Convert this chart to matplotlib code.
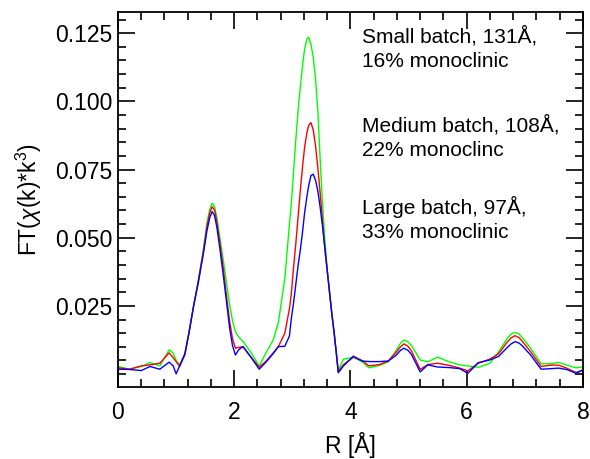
import numpy as np
import matplotlib
matplotlib.use("Agg")
import matplotlib.pyplot as plt
from matplotlib.ticker import MultipleLocator, FixedLocator, FormatStrFormatter

plt.rcParams['font.family'] = ['Liberation Sans', 'DejaVu Sans']
plt.rcParams['mathtext.fontset'] = 'custom'
plt.rcParams['mathtext.rm'] = 'Liberation Sans'
plt.rcParams['mathtext.it'] = 'Liberation Sans:italic'

# R grid [Å]
r = [0.0, 0.2, 0.4, 0.55, 0.72, 0.88, 0.95, 1.0, 1.06, 1.15, 1.22, 1.30, 1.38, 1.47,
     1.53, 1.58, 1.62, 1.66, 1.70, 1.75, 1.81, 1.87, 1.92, 1.97, 2.02, 2.08, 2.15,
     2.3, 2.43, 2.55, 2.67, 2.76, 2.87, 2.95, 2.98, 3.02, 3.06, 3.10, 3.14, 3.18,
     3.21, 3.25, 3.28, 3.32, 3.36, 3.40, 3.44, 3.48, 3.52, 3.56, 3.60, 3.64, 3.68,
     3.72, 3.76, 3.79,
     3.88, 4.05, 4.2, 4.32, 4.5, 4.65, 4.78, 4.86, 4.92, 4.99, 5.05, 5.2, 5.33, 5.5,
     5.7, 5.88, 6.02, 6.2, 6.4, 6.55, 6.7, 6.76, 6.83, 6.90, 6.95, 7.1, 7.28, 7.45,
     7.58, 7.72, 7.88, 8.0]

# Small batch, 131 Å (green)
small = [0.0028, 0.0018, 0.0028, 0.0042, 0.0030, 0.0089, 0.0077, 0.0050, 0.0034,
         0.0072, 0.0150, 0.0250, 0.0340, 0.0460,
         0.0555, 0.0605, 0.0627, 0.0615, 0.0575, 0.0505, 0.0420, 0.0330, 0.0255,
         0.0195, 0.0155, 0.0135, 0.0120, 0.0075, 0.0030, 0.0080, 0.0125, 0.0190,
         0.0350, 0.0550, 0.0620, 0.0740, 0.0860, 0.0970, 0.1060, 0.1140, 0.1190,
         0.1228, 0.1235, 0.1210, 0.1160, 0.1080, 0.0960, 0.0780, 0.0620, 0.0490,
         0.0385, 0.0300, 0.0220, 0.0150, 0.0070, 0.0015,
         0.0055, 0.0062, 0.0045, 0.0023, 0.0032, 0.0045, 0.0085, 0.0113, 0.0125,
         0.0118, 0.0105, 0.0052, 0.0045, 0.0062, 0.0045, 0.0034, 0.0030, 0.0025,
         0.0040, 0.0082, 0.0132, 0.0146, 0.0153, 0.0147, 0.0135, 0.0095, 0.0038,
         0.0038, 0.0043, 0.0033, 0.0023, 0.0026]

# Medium batch, 108 Å (red)
medium = [0.0023, 0.0018, 0.0030, 0.0034, 0.0040, 0.0078, 0.0060, 0.0046, 0.0028,
          0.0070, 0.0150, 0.0250, 0.0340, 0.0450,
          0.0540, 0.0592, 0.0614, 0.0602, 0.0560, 0.0485, 0.0390, 0.0280, 0.0195,
          0.0130, 0.0095, 0.0098, 0.0101, 0.0060, 0.0025, 0.0048, 0.0078, 0.0101,
          0.0150, 0.0240, 0.0290, 0.0390, 0.0480, 0.0580, 0.0680, 0.0770, 0.0830,
          0.0885, 0.0912, 0.0922, 0.0895, 0.0835, 0.0755, 0.0660, 0.0560, 0.0460,
          0.0380, 0.0300, 0.0220, 0.0150, 0.0070, 0.0009,
          0.0035, 0.0062, 0.0050, 0.0030, 0.0035, 0.0048, 0.0078, 0.0100, 0.0111,
          0.0102, 0.0085, 0.0017, 0.0035, 0.0040, 0.0032, 0.0022, 0.0012, 0.0040,
          0.0055, 0.0075, 0.0118, 0.0132, 0.0141, 0.0134, 0.0122, 0.0082, 0.0028,
          0.0033, 0.0033, 0.0022, 0.0006, 0.0015]

# Large batch, 97 Å (blue)
large = [0.0018, 0.0017, 0.0013, 0.0028, 0.0018, 0.0044, 0.0030, 0.0001, 0.0030,
         0.0075, 0.0150, 0.0248, 0.0333, 0.0443,
         0.0525, 0.0575, 0.0596, 0.0582, 0.0540, 0.0465, 0.0365, 0.0260, 0.0170,
         0.0105, 0.0070, 0.0090, 0.0101, 0.0058, 0.0018, 0.0045, 0.0075, 0.0101,
         0.0102, 0.0140, 0.0200, 0.0260, 0.0330, 0.0400, 0.0460, 0.0530, 0.0590,
         0.0650, 0.0690, 0.0728, 0.0733, 0.0710, 0.0670, 0.0610, 0.0540, 0.0460,
         0.0380, 0.0300, 0.0220, 0.0150, 0.0070, 0.0005,
         0.0030, 0.0066, 0.0048, 0.0046, 0.0046, 0.0048, 0.0068, 0.0087, 0.0095,
         0.0087, 0.0072, 0.0008, 0.0034, 0.0026, 0.0024, 0.0020, 0.0003, 0.0042,
         0.0052, 0.0065, 0.0098, 0.0110, 0.0119, 0.0114, 0.0105, 0.0070, 0.0018,
         0.0020, 0.0022, 0.0017, 0.0003, 0.0015]

labels = ["Small batch, 131Å,\n16% monoclinic",
          "Medium batch, 108Å,\n22% monoclinc",
          "Large batch, 97Å,\n33% monoclinic"]

fig = plt.figure(figsize=(5.9, 4.59), dpi=100)
ax = fig.add_axes([0.2, 0.157, 0.788, 0.817])

ax.plot(r, small, color='#00ff00', lw=1.0)
ax.plot(r, medium, color='#ff0000', lw=1.0)
ax.plot(r, large, color='#0000ff', lw=1.0)

ax.set_xlim(0, 8)
ax.set_ylim(-0.0047, 0.1328)
ax.xaxis.set_major_locator(MultipleLocator(2))
ax.xaxis.set_minor_locator(MultipleLocator(0.4))
ax.yaxis.set_major_locator(FixedLocator([0.025, 0.05, 0.075, 0.1, 0.125]))
ax.yaxis.set_minor_locator(MultipleLocator(0.005))
ax.yaxis.set_major_formatter(FormatStrFormatter('%.3f'))

ax.tick_params(which='both', direction='in', top=True, right=True, width=1.2)
ax.tick_params(which='major', length=12, labelsize=16.5)
ax.tick_params(which='minor', length=6)
ax.tick_params(axis='x', pad=10)
ax.tick_params(axis='y', pad=4)
for s in ax.spines.values():
    s.set_linewidth(1.3)

ax.set_xlabel('R [Å]', fontsize=16.5, labelpad=6)
ax.set_ylabel(r'FT($\chi$(k)*k$^3$)', fontsize=16.5, labelpad=8)

ytops = [0.963, 0.725, 0.509]
for lab, yt in zip(labels, ytops):
    ax.text(0.525, yt, lab, transform=ax.transAxes, fontsize=15,
            va='top', ha='left', linespacing=1.35)

fig.savefig('out.png', dpi=100)
